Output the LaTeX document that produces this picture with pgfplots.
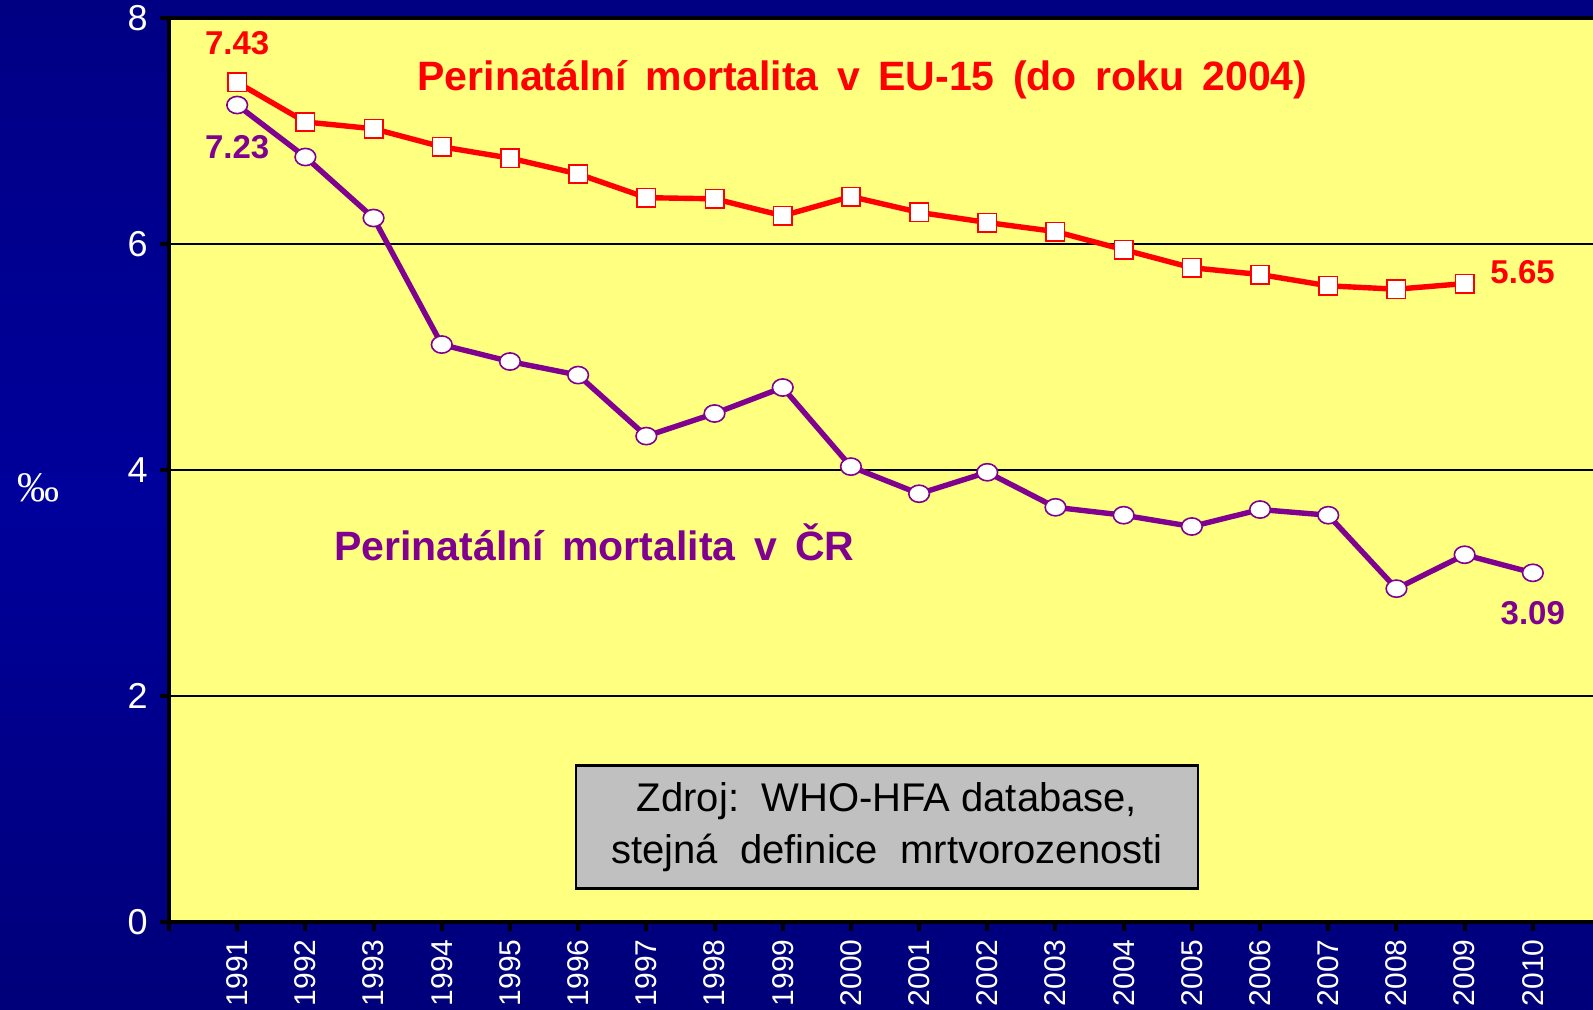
\documentclass[border=0pt]{standalone}
\usepackage{fontspec}
\setmainfont{Liberation Sans}
\newfontfamily\seriffont{Liberation Serif}
\usepackage{pgfplots}
\pgfplotsset{compat=1.18}
\definecolor{bgtop}{RGB}{0,0,95}
\definecolor{bgupper}{RGB}{0,0,135}
\definecolor{bgmid}{RGB}{0,0,155}
\definecolor{bglower}{RGB}{0,0,115}
\definecolor{bgbottom}{RGB}{5,5,70}
\definecolor{plotyellow}{RGB}{255,255,128}
\definecolor{eured}{RGB}{255,0,0}
\definecolor{czpurple}{RGB}{128,0,144}
\definecolor{boxgray}{RGB}{192,192,192}
\pgfdeclareverticalshading{bgshade}{100bp}{color(0bp)=(bgbottom); color(20bp)=(bglower); color(50bp)=(bgmid); color(72bp)=(bgupper); color(100bp)=(bgtop)}
\newcommand{\ws}{\hspace{0.45em}}
\begin{document}
\begin{tikzpicture}
\useasboundingbox (0,0) rectangle (796.5pt,505pt);
\shade[shading=bgshade] (0,0) rectangle (796.5pt,505pt);
\begin{axis}[
  at={(84.5pt,44pt)}, anchor=south west,
  scale only axis, width=716pt, height=452pt,
  xmin=1990, xmax=2011, ymin=0, ymax=8,
  axis background/.style={fill=plotyellow},
  axis line style={line width=2pt, black},
  xtick={1990,1991,1992,1993,1994,1995,1996,1997,1998,1999,2000,2001,2002,2003,2004,2005,2006,2007,2008,2009,2010},
  xticklabels={{},1991,1992,1993,1994,1995,1996,1997,1998,1999,2000,2001,2002,2003,2004,2005,2006,2007,2008,2009,2010},
  ytick={0,2,4,6,8}, yticklabels={0,2,4,6,8},
  xtick pos=bottom, ytick pos=left,
  tick align=outside, major tick length=4.5pt,
  tick style={line width=2pt, black},
  ymajorgrids, grid style={black, line width=0.6pt},
  xticklabel style={rotate=90, anchor=east, font=\fontsize{15}{15}\selectfont, text=white, inner sep=4pt},
  yticklabel style={font=\fontsize{18}{18}\selectfont, text=white, inner sep=6pt},
  clip=false,
]
\addplot[color=czpurple, line width=2.7pt, mark=*, mark size=4.3pt,
  mark options={fill=white, draw=czpurple, line width=0.8pt, xscale=1.2}]
  coordinates {
  (1991,7.23) (1992,6.77) (1993,6.23) (1994,5.11) (1995,4.96) (1996,4.84)
  (1997,4.30) (1998,4.50) (1999,4.73) (2000,4.03) (2001,3.79) (2002,3.98)
  (2003,3.67) (2004,3.60) (2005,3.50) (2006,3.65) (2007,3.60) (2008,2.95)
  (2009,3.25) (2010,3.09)};
\addplot[color=eured, line width=2.7pt, mark=square*, mark size=4.6pt,
  mark options={fill=white, draw=eured, line width=0.8pt}]
  coordinates {
  (1991,7.43) (1992,7.08) (1993,7.02) (1994,6.86) (1995,6.76) (1996,6.62)
  (1997,6.41) (1998,6.40) (1999,6.25) (2000,6.42) (2001,6.28) (2002,6.19)
  (2003,6.11) (2004,5.95) (2005,5.79) (2006,5.73) (2007,5.63) (2008,5.60)
  (2009,5.65)};
\node[text=eured, font=\bfseries\fontsize{16.5}{16.5}\selectfont] at (axis cs:1991,7.78) {7.43};
\node[text=czpurple, font=\bfseries\fontsize{16.5}{16.5}\selectfont] at (axis cs:1991,6.86) {7.23};
\node[text=eured, font=\bfseries\fontsize{16.5}{16.5}\selectfont] at (axis cs:2009.85,5.75) {5.65};
\node[text=czpurple, font=\bfseries\fontsize{16.5}{16.5}\selectfont] at (axis cs:2010,2.73) {3.09};
\node[text=eured, font=\bfseries\fontsize{20.5}{20.5}\selectfont] at (axis cs:2000.17,7.45) {Perinatální\ws mortalita\ws v\ws EU-15\ws (do\ws roku\ws 2004)};
\node[text=czpurple, font=\bfseries\fontsize{20.5}{20.5}\selectfont] at (axis cs:1996.24,3.36) {Perinatální\ws mortalita\ws v\ws ČR};
\node[draw=black, line width=1.2pt, fill=boxgray, minimum width=311pt, minimum height=61.5pt,
  align=center, font=\fontsize{20}{26}\selectfont] at (axis cs:2000.53,0.84)
  {Zdroj:\ \ WHO-HFA database,\\stejná\ \ definice\ \ mrtvorozenosti};
\end{axis}
\node[text=white, font=\seriffont\fontsize{21}{21}\selectfont] at (19.5pt,261pt) {‰};
\end{tikzpicture}
\end{document}
